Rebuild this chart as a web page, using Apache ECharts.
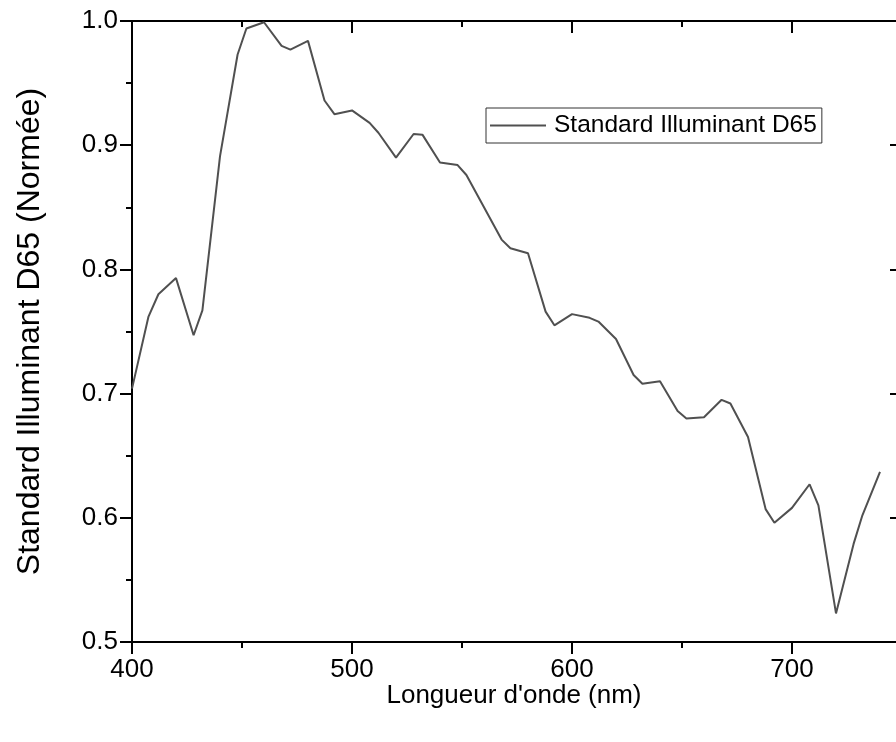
<!DOCTYPE html>
<html>
<head>
<meta charset="utf-8">
<script src="https://cdn.jsdelivr.net/npm/echarts@6/dist/echarts.min.js"></script>
<style>
html,body{margin:0;padding:0;background:#fff;}
#chart{width:896px;height:742px;}
</style>
</head>
<body>
<div id="chart"></div>
<script>
const seriesName = 'Standard Illuminant D65';
const xTitle = "Longueur d'onde (nm)";
const yTitle = 'Standard Illuminant D65 (Normée)';
const wavelengths = [400, 407.5, 412, 420, 428, 432, 440, 448, 452, 460, 468, 472, 480, 487.5, 492, 500, 508, 512, 520, 528, 532, 540, 548, 552, 568, 572, 580, 588, 592, 600, 608, 612, 620, 628, 632, 640, 648, 652, 660, 668, 672, 680, 688, 692, 700, 708, 712, 720, 728, 732, 740];
const intensity = [0.704, 0.762, 0.780, 0.793, 0.747, 0.767, 0.891, 0.973, 0.994, 0.999, 0.980, 0.977, 0.984, 0.936, 0.925, 0.928, 0.918, 0.910, 0.890, 0.909, 0.9085, 0.886, 0.884, 0.876, 0.824, 0.817, 0.813, 0.766, 0.755, 0.764, 0.761, 0.758, 0.744, 0.715, 0.708, 0.710, 0.686, 0.680, 0.681, 0.695, 0.692, 0.665, 0.607, 0.596, 0.608, 0.627, 0.610, 0.523, 0.579, 0.602, 0.637];
const xMin = 400, xMax = 750, xStep = 100;
const yMin = 0.5, yMax = 1.0, yStep = 0.1;

const data = wavelengths.map((w, i) => [w, intensity[i]]);
const chart = echarts.init(document.getElementById('chart'), null, {renderer: 'canvas'});
const font = 'Liberation Sans, Arial, sans-serif';
const axisCommon = {
  type: 'value',
  axisLine: {show: true, onZero: false, lineStyle: {color: '#000', width: 2}},
  splitLine: {show: false}
};
chart.setOption({
  animation: false,
  backgroundColor: '#fff',
  grid: {left: 132, top: 21, width: 770, height: 621, containLabel: false, outerBoundsMode: 'none'},
  legend: {
    show: true,
    left: 486, top: 108,
    data: [seriesName],
    icon: 'rect',
    itemWidth: 56, itemHeight: 2,
    itemGap: 8,
    padding: [5, 5, 5, 4],
    borderColor: '#333', borderWidth: 1,
    textStyle: {fontFamily: font, fontSize: 24.5, color: '#000', padding: [0, 0, 0, 3]}
  },
  xAxis: [
    Object.assign({}, axisCommon, {
      position: 'bottom', min: xMin, max: xMax, interval: xStep,
      name: xTitle, nameLocation: 'middle', nameGap: 41, nameMoveOverlap: false,
      nameTextStyle: {fontFamily: font, fontSize: 26, color: '#000', padding: [0, 0, 0, -6]},
      axisTick: {show: true, inside: false, length: 12, lineStyle: {width: 2, color: '#000'}},
      minorTick: {show: true, splitNumber: 2, length: 6, lineStyle: {width: 2, color: '#000'}},
      axisLabel: {show: true, margin: 15, fontFamily: font, fontSize: 26, color: '#000',
        formatter: v => (v % xStep === 0 ? String(v) : '')}
    }),
    Object.assign({}, axisCommon, {
      position: 'top', min: xMin, max: xMax, interval: xStep,
      axisTick: {show: true, inside: true, length: 12, lineStyle: {width: 2, color: '#000'}},
      minorTick: {show: true, splitNumber: 2, length: 6, lineStyle: {width: 2, color: '#000'}},
      axisLabel: {show: false}
    })
  ],
  yAxis: [
    Object.assign({}, axisCommon, {
      position: 'left', min: yMin, max: yMax, interval: yStep,
      name: yTitle, nameLocation: 'middle', nameGap: 86, nameRotate: 90, nameMoveOverlap: false,
      nameTextStyle: {fontFamily: font, fontSize: 32, color: '#000'},
      axisTick: {show: true, inside: false, length: 12, lineStyle: {width: 2, color: '#000'}},
      minorTick: {show: true, splitNumber: 2, length: 6, lineStyle: {width: 2, color: '#000'}},
      axisLabel: {show: true, margin: 14, fontFamily: font, fontSize: 26, color: '#000',
        formatter: v => v.toFixed(1)}
    }),
    Object.assign({}, axisCommon, {
      position: 'right', min: yMin, max: yMax, interval: yStep,
      axisTick: {show: true, inside: true, length: 12, lineStyle: {width: 2, color: '#000'}},
      minorTick: {show: true, splitNumber: 2, length: 6, lineStyle: {width: 2, color: '#000'}},
      axisLabel: {show: false}
    })
  ],
  series: [{
    name: seriesName,
    type: 'line',
    xAxisIndex: 0, yAxisIndex: 0,
    data: data,
    showSymbol: false,
    symbol: 'none',
    lineStyle: {color: '#505050', width: 2},
    itemStyle: {color: '#505050'}
  }]
});
</script>
</body>
</html>
